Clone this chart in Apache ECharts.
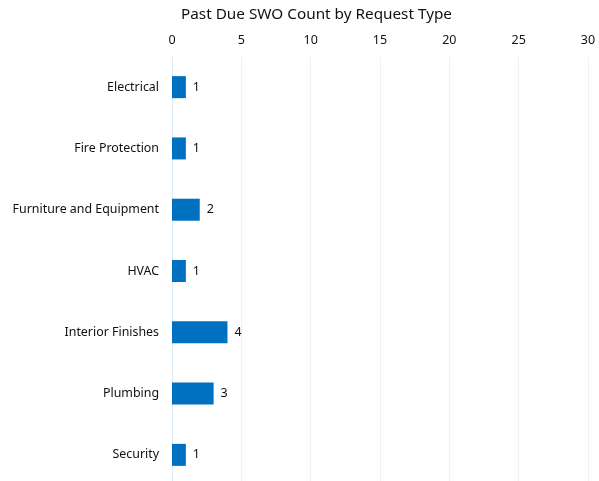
<!DOCTYPE html>
<html><head><meta charset="utf-8">
<script src="https://cdn.jsdelivr.net/npm/echarts@6/dist/echarts.min.js"></script>
<style>html,body{margin:0;padding:0;background:#fff}#c{width:599px;height:481px}</style>
</head><body><div id="c"></div>
<script>
const categories = ["Electrical","Fire Protection","Furniture and Equipment","HVAC","Interior Finishes","Plumbing","Security"];
const values = [1,1,2,1,4,3,1];
const xTicks = {min:0,max:30,interval:5};
const chart = echarts.init(document.getElementById('c'));
const font = '"Noto Sans", sans-serif';
chart.setOption({
  animation:false,
  textStyle:{fontFamily:font},
  title:{text:'Past Due SWO Count by Request Type',left:176,top:2,textStyle:{fontFamily:font,fontSize:15.3,fontWeight:'normal',color:'#111'}},
  grid:{left:172,width:416,top:56.5,height:429,containLabel:false,outerBoundsMode:'none'},
  xAxis:{type:'value',position:'top',min:xTicks.min,max:xTicks.max,interval:xTicks.interval,
    axisLine:{show:false},axisTick:{show:false},
    axisLabel:{color:'#111',fontSize:12.5,fontFamily:font,margin:10},
    splitLine:{lineStyle:{color:'#eef2f6',width:1}}},
  yAxis:{type:'category',data:categories,inverse:true,
    axisLine:{show:true,lineStyle:{color:'#dcebf8',width:1}},axisTick:{show:false},
    axisLabel:{color:'#111',fontSize:12.4,fontFamily:font,margin:13}},
  series:[{type:'bar',data:values,barWidth:22,itemStyle:{color:'#0070c0'},
    label:{show:true,position:'right',distance:7,color:'#111',fontSize:12.5,fontFamily:font}}]
});
</script></body></html>
